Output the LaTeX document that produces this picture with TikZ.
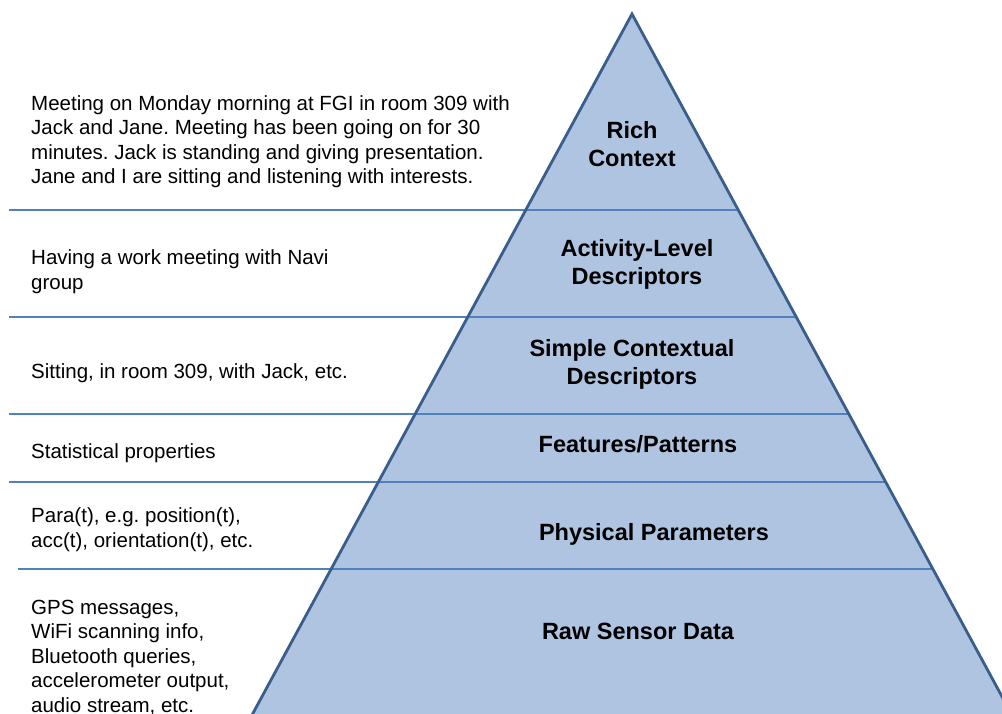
\documentclass[tikz,border=0pt]{standalone}
\usepackage{fontspec}
\setmainfont{Liberation Sans}
\frenchspacing
\definecolor{pyrfill}{HTML}{AEC4E0}
\definecolor{pyredge}{HTML}{3A5E8C}
\definecolor{sepline}{HTML}{4F81BD}
\tikzset{
  desc/.style={anchor=base west, align=left, inner sep=0pt, font=\fontsize{20.5}{24.5}\selectfont},
  lvl/.style={anchor=base, align=center, inner sep=0pt, font=\fontsize{23.5}{28}\selectfont\bfseries},
  sep/.style={draw=sepline, line width=1.4pt},
  pyr/.style={draw=pyredge, line width=2.8pt, line join=miter}
}
\begin{document}
\begin{tikzpicture}[x=1pt,y=-1pt]
\useasboundingbox (0,0) rectangle (1002,713);
\clip (0,0) rectangle (1002,713);
% pyramid
\coordinate (apex) at (632,14);
\coordinate (bl) at (245.5,727);
\coordinate (br) at (1018.5,727);
\fill[pyrfill] (apex) -- (br) -- (bl) -- cycle;
% separator lines
\coordinate (s1l) at (9,210);   \coordinate (s1r) at (738,210);
\coordinate (s2l) at (9,317);   \coordinate (s2r) at (796,317);
\coordinate (s3l) at (9,414);   \coordinate (s3r) at (849,414);
\coordinate (s4l) at (9,482);   \coordinate (s4r) at (885,482);
\coordinate (s5l) at (18,569);  \coordinate (s5r) at (932,569);
\draw[sep] (s1l) -- (s1r);
\draw[sep] (s2l) -- (s2r);
\draw[sep] (s3l) -- (s3r);
\draw[sep] (s4l) -- (s4r);
\draw[sep] (s5l) -- (s5r);
\draw[pyr] (bl) -- (apex) -- (br);
% level labels (anchor = baseline of last line)
\node[lvl] (l1) at (632,166.5) {Rich\\Context};
\node[lvl] (l2) at (637,284) {Activity-Level\\Descriptors};
\node[lvl] (l3) at (632,384.5) {Simple Contextual\\Descriptors};
\node[lvl] (l4) at (638,452.5) {Features/Patterns};
\node[lvl] (l5) at (654,540) {Physical Parameters};
\node[lvl] (l6) at (638,639) {Raw Sensor Data};
% descriptions (anchor = baseline of last line)
\node[desc] (d1) at (31,183.5) {Meeting on Monday morning at FGI in room 309 with\\Jack and Jane. Meeting has been going on for 30\\minutes. Jack is standing and giving presentation.\\Jane and I are sitting and listening with interests.};
\node[desc] (d2) at (31,289) {Having a work meeting with Navi\\group};
\node[desc] (d3) at (31,378.5) {Sitting, in room 309, with Jack, etc.};
\node[desc] (d4) at (31,458.5) {Statistical properties};
\node[desc] (d5) at (31,547) {Para(t), e.g. position(t),\\acc(t), orientation(t), etc.};
\node[desc] (d6) at (31,712) {GPS messages,\\WiFi scanning info,\\Bluetooth queries,\\accelerometer output,\\audio stream, etc.};
\end{tikzpicture}
\end{document}
